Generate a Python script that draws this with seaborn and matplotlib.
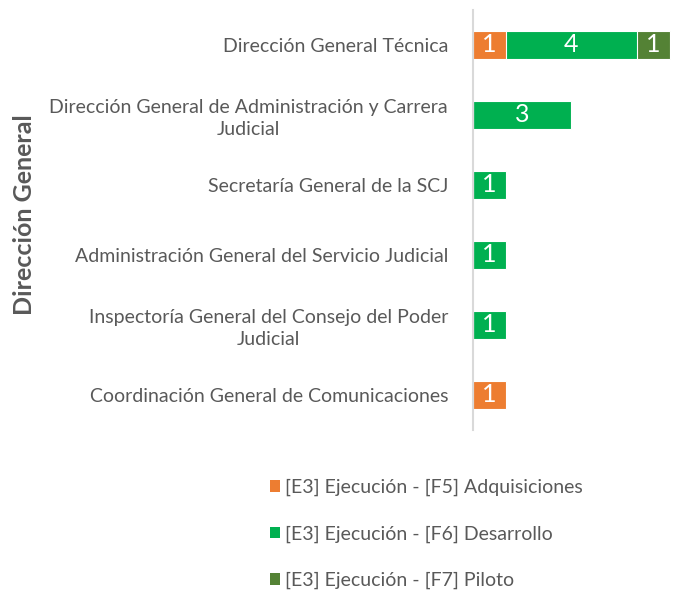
import matplotlib
matplotlib.use("Agg")
import matplotlib.pyplot as plt
import seaborn as sns
import pandas as pd
import numpy as np
from matplotlib.patches import Patch

categories = [
    "Dirección General Técnica",
    "Dirección General de Administración y Carrera\nJudicial",
    "Secretaría General de la SCJ",
    "Administración General del Servicio Judicial",
    "Inspectoría General del Consejo del Poder\nJudicial",
    "Coordinación General de Comunicaciones",
]
adquisiciones = [1, 0, 0, 0, 0, 1]
desarrollo = [4, 3, 1, 1, 1, 0]
piloto = [1, 0, 0, 0, 0, 0]
series_names = [
    "[E3] Ejecución - [F5] Adquisiciones",
    "[E3] Ejecución - [F6] Desarrollo",
    "[E3] Ejecución - [F7] Piloto",
]
colors = ["#ED7D31", "#00B050", "#548235"]

sns.set_theme(style="white")
plt.rcParams["font.family"] = ["Lato", "DejaVu Sans"]

df = pd.DataFrame({"cat": categories, "a": adquisiciones, "d": desarrollo, "p": piloto})
df["c1"] = df["a"]
df["c2"] = df["a"] + df["d"]
df["c3"] = df["a"] + df["d"] + df["p"]

W, H = 677, 594
fig = plt.figure(figsize=(W / 100, H / 100), dpi=100)
left, right, top, bottom = 473, 673, 10, 430
ax = fig.add_axes([left / W, 1 - bottom / H, (right - left) / W, (bottom - top) / H])

for col, c in zip(["c3", "c2", "c1"], colors[::-1]):
    sns.barplot(data=df, x=col, y="cat", orient="y", color=c, width=0.41,
                edgecolor="white", linewidth=0.8, ax=ax, saturation=1)

ax.set_xlim(0, 6.1)
ax.set_ylim(5.5, -0.5)
ax.set_xticks([])
ax.set_xlabel("")
ax.tick_params(axis="y", length=0, pad=18, labelsize=14, labelcolor="#595959")
for lbl in ax.get_yticklabels():
    lbl.set_multialignment("center")
    lbl.set_linespacing(1.3)
for s in ["top", "right", "bottom"]:
    ax.spines[s].set_visible(False)
ax.spines["left"].set_color("#D9D9D9")
ax.spines["left"].set_linewidth(1.5)

# value labels
for i in range(len(categories)):
    start = 0
    for vals in (adquisiciones, desarrollo, piloto):
        v = vals[i]
        if v:
            ax.text(start + v / 2, i, str(v), ha="center", va="center",
                    color="white", fontsize=18)
        start += v

ax.set_ylabel("Dirección General", fontsize=18, fontweight="bold", color="#595959")
ax.yaxis.set_label_coords((36 - left) / (right - left), (bottom - 215) / (bottom - top))

handles = [Patch(facecolor=c, edgecolor="none") for c in colors]
fig.legend(handles, series_names, loc="upper left", bbox_to_anchor=(262 / W, 1 - 471 / H),
           frameon=False, fontsize=14, labelcolor="#595959", handlelength=0.55,
           handleheight=0.55, handletextpad=0.25, labelspacing=1.5, borderaxespad=0)

fig.savefig("out.png", dpi=100)
